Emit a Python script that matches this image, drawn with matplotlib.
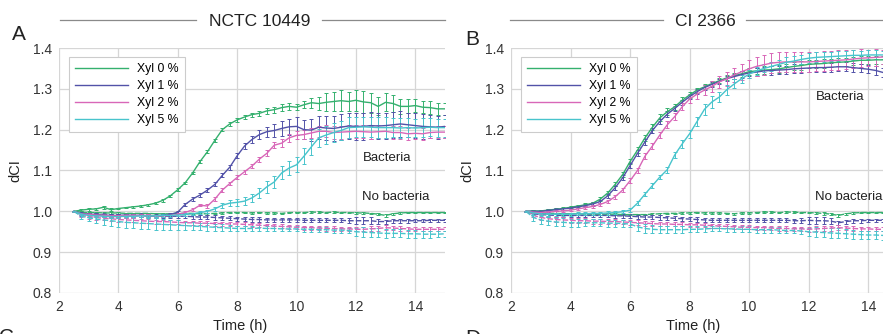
import matplotlib
matplotlib.use("Agg")
import matplotlib.pyplot as plt
from matplotlib.lines import Line2D

plt.rcParams['font.family'] = ['Liberation Sans', 'DejaVu Sans']

# --- data ---
TIME_H = [2.5, 2.75, 3.0, 3.25, 3.5, 3.75, 4.0, 4.25, 4.5, 4.75,
          5.0, 5.25, 5.5, 5.75, 6.0, 6.25, 6.5, 6.75, 7.0, 7.25,
          7.5, 7.75, 8.0, 8.25, 8.5, 8.75, 9.0, 9.25, 9.5, 9.75,
          10.0, 10.25, 10.5, 10.75, 11.0, 11.25, 11.5, 11.75, 12.0, 12.25,
          12.5, 12.75, 13.0, 13.25, 13.5, 13.75, 14.0, 14.25, 14.5, 14.75, 15.0]

LABELS = ["Xyl 0 %", "Xyl 1 %", "Xyl 2 %", "Xyl 5 %"]
COLORS = ["#34b06e", "#5252a8", "#d867b8", "#48c4cc"]

# panel A, NCTC 10449, with bacteria
A_BAC_0 = [1.000, 1.003, 1.005, 1.006, 1.010, 1.004, 1.007, 1.009, 1.011, 1.013,
           1.016, 1.020, 1.027, 1.038, 1.053, 1.070, 1.094, 1.122, 1.146, 1.174,
           1.200, 1.214, 1.224, 1.231, 1.237, 1.240, 1.246, 1.249, 1.254, 1.257,
           1.255, 1.261, 1.266, 1.264, 1.267, 1.269, 1.271, 1.269, 1.272, 1.268,
           1.266, 1.257, 1.267, 1.264, 1.257, 1.257, 1.259, 1.255, 1.254, 1.251, 1.251]
A_BAC_1 = [1.000, 0.995, 0.993, 0.992, 0.991, 0.990, 0.990, 0.991, 0.990, 0.990,
           0.989, 0.989, 0.990, 0.992, 0.998, 1.017, 1.030, 1.040, 1.052, 1.066,
           1.088, 1.108, 1.136, 1.160, 1.176, 1.188, 1.195, 1.198, 1.203, 1.207,
           1.208, 1.200, 1.199, 1.206, 1.204, 1.203, 1.206, 1.209, 1.208, 1.208,
           1.210, 1.209, 1.210, 1.212, 1.214, 1.212, 1.210, 1.208, 1.207, 1.206, 1.208]
A_BAC_2 = [1.000, 0.994, 0.992, 0.991, 0.990, 0.989, 0.989, 0.990, 0.990, 0.990,
           0.990, 0.989, 0.989, 0.990, 0.992, 0.997, 1.004, 1.015, 1.013, 1.030,
           1.052, 1.068, 1.083, 1.097, 1.111, 1.128, 1.142, 1.162, 1.167, 1.180,
           1.186, 1.188, 1.192, 1.196, 1.196, 1.193, 1.194, 1.195, 1.196, 1.195,
           1.194, 1.195, 1.196, 1.193, 1.193, 1.190, 1.191, 1.190, 1.193, 1.194, 1.194]
A_BAC_3 = [1.000, 0.993, 0.990, 0.989, 0.988, 0.987, 0.987, 0.988, 0.988, 0.989,
           0.989, 0.989, 0.990, 0.990, 0.991, 0.992, 0.994, 0.997, 1.000, 1.006,
           1.015, 1.020, 1.022, 1.025, 1.033, 1.045, 1.060, 1.072, 1.094, 1.106,
           1.114, 1.135, 1.158, 1.180, 1.187, 1.193, 1.198, 1.205, 1.206, 1.207,
           1.206, 1.205, 1.205, 1.205, 1.204, 1.205, 1.204, 1.205, 1.206, 1.205, 1.205]

# panel A, no bacteria
A_NOB_0 = [1.000, 0.998, 0.997, 0.997, 0.996, 0.996, 0.996, 0.995, 0.995, 0.995,
           0.995, 0.994, 0.994, 0.994, 0.995, 0.995, 0.995, 0.994, 0.994, 0.995,
           0.996, 0.997, 0.997, 0.997, 0.996, 0.997, 0.996, 0.996, 0.995, 0.997,
           0.997, 0.997, 0.998, 0.998, 0.997, 0.998, 0.997, 0.997, 0.996, 0.996,
           0.995, 0.993, 0.990, 0.994, 0.996, 0.997, 0.997, 0.997, 0.997, 0.997, 0.997]
A_NOB_1 = [1.000, 0.993, 0.991, 0.990, 0.990, 0.989, 0.989, 0.989, 0.989, 0.990,
           0.989, 0.989, 0.988, 0.988, 0.988, 0.988, 0.987, 0.986, 0.986, 0.985,
           0.984, 0.983, 0.982, 0.981, 0.980, 0.980, 0.979, 0.979, 0.979, 0.979,
           0.979, 0.978, 0.978, 0.978, 0.978, 0.978, 0.978, 0.977, 0.977, 0.977,
           0.977, 0.975, 0.975, 0.977, 0.977, 0.977, 0.977, 0.977, 0.978, 0.978, 0.978]
A_NOB_2 = [1.000, 0.990, 0.987, 0.985, 0.983, 0.982, 0.980, 0.979, 0.978, 0.977,
           0.976, 0.975, 0.975, 0.974, 0.973, 0.972, 0.972, 0.971, 0.971, 0.970,
           0.970, 0.969, 0.969, 0.968, 0.967, 0.966, 0.965, 0.964, 0.963, 0.962,
           0.961, 0.960, 0.960, 0.959, 0.958, 0.958, 0.957, 0.957, 0.956, 0.956,
           0.957, 0.958, 0.960, 0.959, 0.958, 0.957, 0.956, 0.956, 0.956, 0.956, 0.956]
A_NOB_3 = [1.000, 0.988, 0.984, 0.981, 0.979, 0.977, 0.975, 0.973, 0.972, 0.971,
           0.970, 0.969, 0.968, 0.967, 0.966, 0.965, 0.964, 0.963, 0.962, 0.961,
           0.960, 0.959, 0.958, 0.958, 0.958, 0.959, 0.958, 0.958, 0.957, 0.957,
           0.957, 0.956, 0.956, 0.955, 0.955, 0.954, 0.954, 0.953, 0.950, 0.949,
           0.948, 0.947, 0.946, 0.946, 0.946, 0.945, 0.945, 0.944, 0.944, 0.944, 0.945]

# panel B, CI 2366, with bacteria
B_BAC_0 = [1.000, 1.001, 1.001, 1.003, 1.005, 1.007, 1.010, 1.013, 1.016, 1.020,
           1.030, 1.045, 1.066, 1.090, 1.122, 1.150, 1.180, 1.206, 1.229, 1.244,
           1.256, 1.272, 1.285, 1.297, 1.305, 1.313, 1.320, 1.327, 1.332, 1.337,
           1.342, 1.344, 1.346, 1.347, 1.349, 1.352, 1.355, 1.357, 1.360, 1.361,
           1.362, 1.364, 1.365, 1.366, 1.368, 1.370, 1.370, 1.371, 1.371, 1.372, 1.372]
B_BAC_1 = [1.000, 1.000, 1.000, 1.002, 1.004, 1.006, 1.008, 1.011, 1.014, 1.018,
           1.024, 1.038, 1.058, 1.082, 1.112, 1.142, 1.170, 1.198, 1.220, 1.238,
           1.252, 1.267, 1.281, 1.293, 1.303, 1.311, 1.318, 1.325, 1.330, 1.335,
           1.339, 1.341, 1.344, 1.345, 1.346, 1.347, 1.349, 1.350, 1.351, 1.352,
           1.352, 1.353, 1.354, 1.354, 1.352, 1.350, 1.348, 1.345, 1.340, 1.336, 1.335]
B_BAC_2 = [1.000, 0.998, 0.997, 0.998, 1.000, 1.001, 1.003, 1.006, 1.009, 1.012,
           1.017, 1.024, 1.036, 1.052, 1.075, 1.100, 1.135, 1.160, 1.187, 1.212,
           1.232, 1.256, 1.275, 1.287, 1.297, 1.306, 1.317, 1.325, 1.334, 1.342,
           1.349, 1.355, 1.359, 1.363, 1.365, 1.366, 1.366, 1.366, 1.366, 1.367,
           1.368, 1.369, 1.370, 1.371, 1.373, 1.375, 1.376, 1.377, 1.378, 1.379, 1.380]
B_BAC_3 = [1.000, 0.996, 0.994, 0.993, 0.993, 0.993, 0.993, 0.994, 0.994, 0.995,
           0.995, 0.996, 0.997, 0.999, 1.003, 1.020, 1.042, 1.063, 1.084, 1.102,
           1.138, 1.165, 1.190, 1.220, 1.250, 1.268, 1.280, 1.298, 1.312, 1.325,
           1.336, 1.344, 1.350, 1.355, 1.360, 1.365, 1.368, 1.372, 1.375, 1.377,
           1.378, 1.379, 1.380, 1.381, 1.382, 1.382, 1.383, 1.383, 1.383, 1.382, 1.382]

# panel B, no bacteria
B_NOB_0 = [1.000, 0.998, 0.996, 0.995, 0.995, 0.994, 0.994, 0.994, 0.993, 0.993,
           0.993, 0.993, 0.993, 0.992, 0.992, 0.992, 0.992, 0.993, 0.994, 0.995,
           0.995, 0.996, 0.996, 0.997, 0.996, 0.996, 0.996, 0.995, 0.994, 0.996,
           0.996, 0.997, 0.998, 0.998, 0.997, 0.998, 0.998, 0.997, 0.997, 0.996,
           0.995, 0.993, 0.990, 0.994, 0.996, 0.997, 0.997, 0.997, 0.997, 0.997, 0.997]
B_NOB_1 = [1.000, 0.994, 0.992, 0.991, 0.990, 0.990, 0.990, 0.990, 0.990, 0.990,
           0.990, 0.990, 0.989, 0.989, 0.988, 0.987, 0.986, 0.986, 0.985, 0.984,
           0.983, 0.982, 0.981, 0.980, 0.979, 0.978, 0.978, 0.978, 0.978, 0.978,
           0.978, 0.978, 0.978, 0.978, 0.978, 0.978, 0.977, 0.977, 0.978, 0.977,
           0.977, 0.976, 0.972, 0.975, 0.977, 0.977, 0.978, 0.978, 0.978, 0.977, 0.977]
B_NOB_2 = [1.000, 0.990, 0.985, 0.982, 0.980, 0.979, 0.978, 0.977, 0.977, 0.976,
           0.976, 0.975, 0.975, 0.974, 0.973, 0.972, 0.971, 0.970, 0.969, 0.969,
           0.968, 0.968, 0.967, 0.967, 0.966, 0.965, 0.964, 0.963, 0.962, 0.961,
           0.961, 0.960, 0.960, 0.959, 0.958, 0.958, 0.957, 0.957, 0.956, 0.957,
           0.958, 0.959, 0.960, 0.959, 0.958, 0.957, 0.957, 0.956, 0.956, 0.956, 0.956]
B_NOB_3 = [1.000, 0.985, 0.979, 0.976, 0.974, 0.973, 0.972, 0.972, 0.972, 0.972,
           0.972, 0.971, 0.971, 0.970, 0.969, 0.962, 0.958, 0.956, 0.955, 0.955,
           0.955, 0.955, 0.956, 0.956, 0.957, 0.958, 0.958, 0.957, 0.957, 0.956,
           0.956, 0.955, 0.955, 0.955, 0.954, 0.953, 0.953, 0.952, 0.950, 0.949,
           0.948, 0.947, 0.946, 0.945, 0.944, 0.943, 0.942, 0.942, 0.941, 0.941, 0.941]

# error bars, in thousandths of dCI
A_BAC_ERR = [
    [2, 2, 3, 3, 4, 3, 2, 2, 2, 2, 2, 2, 3, 3, 3, 3, 3, 3, 4, 4, 4, 4, 5, 5, 5, 6,
     7, 7, 8, 8, 8, 9, 12, 15, 22, 24, 25, 24, 26, 26, 24, 22, 22, 20, 18, 17, 16, 15, 15, 14, 14],
    [2, 3, 3, 3, 3, 3, 3, 3, 3, 3, 3, 3, 3, 3, 3, 4, 4, 4, 5, 5, 5, 6, 6, 7, 8, 10,
     12, 15, 18, 20, 22, 24, 26, 28, 30, 30, 32, 33, 33, 33, 33, 33, 32, 32, 32, 30, 30, 30, 28, 28, 28],
    [2, 2, 3, 3, 3, 3, 3, 3, 3, 3, 3, 3, 3, 3, 3, 3, 3, 3, 4, 4, 4, 4, 5, 5, 6, 6,
     7, 8, 9, 10, 10, 12, 13, 14, 15, 15, 16, 16, 16, 16, 16, 16, 16, 16, 15, 15, 15, 15, 14, 14, 14],
    [2, 3, 3, 3, 3, 3, 3, 3, 3, 3, 3, 3, 3, 3, 3, 3, 3, 4, 4, 5, 6, 7, 8, 9, 10, 12,
     14, 15, 16, 18, 18, 20, 20, 22, 22, 24, 24, 25, 25, 25, 25, 25, 25, 24, 24, 24, 23, 23, 22, 22, 22],
]
A_NOB_ERR = [
    [1, 2, 2, 2, 2, 2, 2, 2, 2, 2, 2, 2, 2, 2, 2, 2, 2, 2, 2, 2, 2, 2, 2, 2, 2, 2,
     2, 2, 2, 2, 2, 2, 2, 2, 2, 2, 2, 2, 2, 2, 2, 3, 3, 3, 2, 2, 2, 2, 2, 2, 2],
    [2, 4, 5, 5, 5, 5, 5, 5, 5, 5, 5, 5, 5, 5, 5, 5, 5, 5, 5, 5, 5, 5, 5, 5, 5, 5,
     5, 5, 5, 5, 5, 5, 5, 5, 5, 5, 5, 6, 8, 8, 8, 7, 5, 5, 5, 5, 4, 4, 4, 4, 4],
    [2, 4, 5, 5, 5, 5, 5, 5, 5, 5, 5, 5, 5, 5, 5, 5, 5, 5, 5, 5, 5, 5, 5, 5, 5, 5,
     5, 5, 5, 5, 5, 5, 5, 5, 5, 5, 5, 5, 5, 5, 6, 6, 6, 5, 5, 5, 5, 5, 5, 5, 5],
    [2, 6, 8, 10, 12, 12, 13, 14, 14, 14, 14, 14, 13, 12, 12, 10, 10, 9, 9, 8, 8, 8, 7, 7, 7, 7,
     7, 7, 6, 6, 6, 6, 6, 6, 6, 6, 6, 6, 10, 12, 12, 11, 11, 10, 10, 10, 10, 9, 9, 8, 8],
]
B_BAC_ERR = [
    [2, 3, 3, 3, 3, 3, 3, 3, 4, 4, 4, 5, 5, 6, 7, 7, 8, 8, 9, 8, 8, 7, 7, 6, 6, 6,
     6, 6, 7, 7, 8, 8, 9, 9, 10, 10, 10, 10, 10, 10, 10, 10, 10, 10, 10, 10, 10, 10, 10, 10, 10],
    [2, 3, 3, 3, 3, 3, 3, 3, 4, 4, 4, 5, 5, 6, 6, 7, 7, 7, 7, 7, 7, 6, 6, 6, 6, 6,
     6, 6, 7, 8, 8, 9, 10, 10, 10, 10, 11, 11, 11, 11, 11, 11, 11, 11, 11, 10, 10, 10, 10, 10, 10],
    [2, 3, 3, 3, 3, 3, 3, 3, 3, 4, 4, 4, 5, 5, 6, 6, 7, 7, 7, 8, 8, 9, 10, 11, 12, 14,
     15, 17, 18, 20, 22, 24, 24, 25, 25, 25, 25, 25, 24, 24, 24, 24, 24, 23, 22, 22, 20, 20, 18, 18, 18],
    [2, 4, 4, 4, 4, 4, 4, 4, 4, 4, 4, 4, 4, 4, 4, 5, 5, 6, 6, 7, 8, 9, 10, 12, 14, 14,
     13, 12, 11, 10, 10, 10, 10, 11, 11, 12, 12, 12, 12, 12, 12, 12, 12, 12, 12, 11, 11, 11, 10, 10, 10],
]
B_NOB_ERR = [
    [1, 2, 2, 2, 2, 2, 2, 2, 2, 2, 2, 2, 2, 2, 2, 2, 2, 2, 2, 2, 2, 2, 2, 2, 2, 2,
     2, 2, 2, 2, 2, 2, 2, 2, 2, 2, 2, 2, 2, 2, 3, 3, 3, 3, 2, 2, 2, 2, 2, 2, 2],
    [2, 4, 5, 5, 5, 5, 5, 5, 5, 5, 5, 5, 5, 5, 5, 5, 5, 5, 5, 5, 5, 5, 5, 5, 5, 5,
     5, 5, 5, 5, 5, 5, 5, 5, 5, 5, 5, 6, 8, 8, 8, 7, 5, 5, 5, 5, 4, 4, 4, 4, 4],
    [2, 5, 6, 6, 6, 6, 6, 6, 6, 6, 6, 6, 6, 6, 6, 6, 6, 6, 6, 6, 5, 5, 5, 5, 5, 5,
     5, 5, 5, 5, 5, 5, 5, 5, 5, 5, 5, 5, 6, 6, 6, 6, 6, 5, 5, 5, 5, 5, 5, 5, 5],
    [2, 8, 10, 10, 10, 10, 10, 10, 9, 9, 9, 9, 9, 9, 8, 10, 12, 10, 8, 8, 8, 8, 7, 7, 7, 7,
     7, 7, 7, 7, 7, 7, 7, 7, 7, 7, 7, 8, 10, 12, 12, 12, 12, 11, 11, 10, 10, 10, 10, 9, 9],
]

X_TICKS = [2, 4, 6, 8, 10, 12, 14]
Y_TICKS = [0.8, 0.9, 1.0, 1.1, 1.2, 1.3, 1.4]

W, H = 883, 334
fig = plt.figure(figsize=(W / 100, H / 100), dpi=100)


def px(x0, y0, x1, y1):
    # pixel box -> figure fraction [left, bottom, width, height]
    return [x0 / W, 1 - y1 / H, (x1 - x0) / W, (y1 - y0) / H]


def draw_panel(ax, bac, nob, bac_err, nob_err, bac_lbl_y):
    for vals, err, c in zip(nob, nob_err, COLORS):
        ax.errorbar(TIME_H, vals, yerr=[e / 1000 for e in err], color=c,
                    lw=1.0, ls=(0, (4, 1.5)), elinewidth=0.7, capsize=1.4,
                    capthick=0.7, zorder=3)
    for vals, err, c in zip(bac, bac_err, COLORS):
        ax.errorbar(TIME_H, vals, yerr=[e / 1000 for e in err], color=c,
                    lw=1.0, elinewidth=0.7, capsize=1.4, capthick=0.7, zorder=4)

    ax.set_xlim(2, 15)
    ax.set_ylim(0.8, 1.4)
    ax.set_xticks(X_TICKS)
    ax.set_yticks(Y_TICKS)
    ax.set_yticklabels([f"{v:.1f}" for v in Y_TICKS])
    ax.tick_params(length=0, labelsize=10, labelcolor='#333333', pad=5)
    for s in ax.spines.values():
        s.set_visible(False)
    ax.grid(True, color='#d6d6d6', lw=0.9)
    ax.set_axisbelow(True)
    ax.set_xlabel("Time (h)", fontsize=10.5, color='#222222')
    ax.xaxis.set_label_coords(0.47, -0.105)
    ax.set_ylabel("dCI", fontsize=10.5, color='#222222')
    ax.yaxis.set_label_coords(-0.095, 0.5)

    ax.text(12.25, bac_lbl_y, "Bacteria", fontsize=9.5, color='#222222',
            ha='left', va='center', zorder=5)
    ax.text(12.2, 1.034, "No bacteria", fontsize=9.5, color='#222222',
            ha='left', va='center', zorder=5)

    handles = [Line2D([], [], color=c, lw=1.0) for c in COLORS]
    leg = ax.legend(handles, LABELS, loc='upper left',
                    bbox_to_anchor=(10 / 386, 1 - 9 / 245), borderaxespad=0,
                    fontsize=8.8, handlelength=4.3, labelspacing=0.4,
                    frameon=True, fancybox=False, framealpha=1,
                    borderpad=0.5, handletextpad=0.8)
    leg.get_frame().set_edgecolor('#cccccc')
    leg.get_frame().set_linewidth(0.8)


ax_a = fig.add_axes(px(59, 48, 445, 293))
draw_panel(ax_a, [A_BAC_0, A_BAC_1, A_BAC_2, A_BAC_3],
           [A_NOB_0, A_NOB_1, A_NOB_2, A_NOB_3], A_BAC_ERR, A_NOB_ERR, 1.131)

ax_b = fig.add_axes(px(511, 48, 898, 293))
draw_panel(ax_b, [B_BAC_0, B_BAC_1, B_BAC_2, B_BAC_3],
           [B_NOB_0, B_NOB_1, B_NOB_2, B_NOB_3], B_BAC_ERR, B_NOB_ERR, 1.28)

# strain headers with rules either side
for title, cx, segs in [("NCTC 10449", 260, [(60, 196), (322, 445)]),
                        ("CI 2366", 705, [(510, 663), (746, 883)])]:
    fig.text(cx / W, 1 - 21 / H, title, fontsize=12.5, color='#222222',
             ha='center', va='center')
    for x0, x1 in segs:
        fig.add_artist(Line2D([x0 / W, x1 / W], [1 - 20 / H, 1 - 20 / H],
                              color='#8a8a8a', lw=0.9))

# panel letters (C and D belong to the next row, cut by the frame)
fig.text(12 / W, 1 - 40 / H, "A", fontsize=15, color='#222222', va='baseline')
fig.text(465 / W, 1 - 45 / H, "B", fontsize=15, color='#222222', va='baseline')
fig.text(-1 / W, 1 - 328 / H, "C", fontsize=15, color='#222222', va='top')
fig.text(465 / W, 1 - 329 / H, "D", fontsize=15, color='#222222', va='top')

fig.savefig("out.png", dpi=100)
